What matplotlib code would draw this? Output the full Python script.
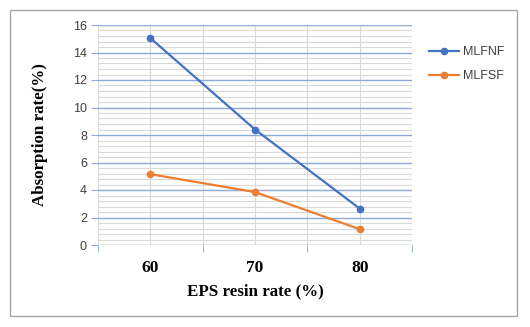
import numpy as np
import matplotlib
matplotlib.use("Agg")
import matplotlib.pyplot as plt
from matplotlib.patches import Rectangle

# data
resin_rate = [60, 70, 80]
mlfnf = [15.05, 8.4, 2.65]
mlfsf = [5.15, 3.85, 1.15]
series_names = ["MLFNF", "MLFSF"]

blue = "#4472C4"
orange = "#ED7D31"
major_col = "#8FAADC"
minor_col = "#D9D9D9"

fig = plt.figure(figsize=(5.3, 3.27), dpi=100)
ax = fig.add_axes([98 / 530, 1 - 245 / 327, 314 / 530, 220 / 327])

# outer chart border like an Excel chart area
fig.patches.append(Rectangle((10 / 530, 1 - 316 / 327), 507 / 530, 306 / 327,
                             transform=fig.transFigure, fill=False,
                             edgecolor="#A6A6A6", linewidth=1.0))

ax.plot(resin_rate, mlfnf, color=blue, marker="o", markersize=4.5, linewidth=1.6,
        label=series_names[0], zorder=5)
ax.plot(resin_rate, mlfsf, color=orange, marker="o", markersize=4.5, linewidth=1.6,
        label=series_names[1], zorder=5)

ax.set_xlim(55, 85)
ax.set_ylim(0, 16)

# grid: gray minor lines, blue majors, gray verticals every 5
for y in np.arange(0, 16.01, 0.4):
    ax.axhline(y, color=minor_col, linewidth=0.8, zorder=1)
for y in range(0, 17, 2):
    ax.axhline(y, color=major_col, linewidth=1.0, zorder=2)
for x in range(55, 86, 5):
    ax.axvline(x, color=minor_col, linewidth=0.8, zorder=1)

for s in ax.spines.values():
    s.set_visible(False)

ax.set_yticks(range(0, 17, 2))
ax.set_xticks(resin_rate)
ax.set_xticks([55, 65, 75, 85], minor=True)
ax.tick_params(axis="y", length=5, color=major_col, labelcolor="#404040",
               labelsize=9, pad=3)
ax.tick_params(axis="x", which="major", length=0, pad=11)
ax.tick_params(axis="x", which="minor", length=5, color=major_col)
for lbl in ax.get_yticklabels():
    lbl.set_family("Liberation Sans")
for lbl in ax.get_xticklabels():
    lbl.set_family("Liberation Serif")
    lbl.set_fontweight("bold")
    lbl.set_fontsize(12.5)

ax.set_xlabel("EPS resin rate (%)", family="Liberation Serif", fontweight="bold",
              fontsize=12.2, labelpad=5)
ax.set_ylabel("Absorption rate(%)", family="Liberation Serif", fontweight="bold",
              fontsize=12.2, labelpad=18)

leg = fig.legend(loc="upper left", bbox_to_anchor=(418 / 530, 1 - 35 / 327),
                 frameon=False, prop={"family": "Liberation Sans", "size": 9},
                 handlelength=2.4, labelspacing=0.95, handletextpad=0.3)
for t in leg.get_texts():
    t.set_color("#404040")

fig.savefig("out.png", dpi=100)
